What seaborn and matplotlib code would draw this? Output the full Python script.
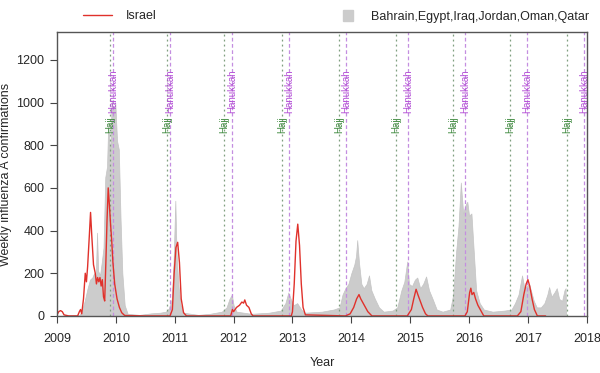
import pandas as pd
import matplotlib
matplotlib.use("Agg")
import matplotlib.pyplot as plt
import seaborn as sns
from matplotlib.lines import Line2D
from matplotlib.patches import Patch

# regional weekly counts (Bahrain, Egypt, Iraq, Jordan, Oman, Qatar)
region_t = [2009.00, 2009.20, 2009.38, 2009.42, 2009.47, 2009.52, 2009.56, 2009.60, 2009.63, 2009.66,
            2009.68, 2009.70, 2009.73, 2009.76, 2009.79, 2009.82, 2009.85, 2009.87, 2009.90, 2009.93,
            2009.96, 2009.99, 2010.02, 2010.05, 2010.08, 2010.11, 2010.15, 2010.20, 2010.40, 2010.60,
            2010.75, 2010.85, 2010.90, 2010.95, 2010.98, 2011.01, 2011.03, 2011.06, 2011.10, 2011.15,
            2011.40, 2011.60, 2011.80, 2011.88, 2011.93, 2011.97, 2012.00, 2012.05, 2012.30, 2012.60,
            2012.80, 2012.88, 2012.93, 2012.97, 2013.02, 2013.08, 2013.15, 2013.20, 2013.50, 2013.70,
            2013.80, 2013.85, 2013.90, 2013.95, 2014.00, 2014.05, 2014.08, 2014.10, 2014.13, 2014.17,
            2014.21, 2014.26, 2014.30, 2014.34, 2014.40, 2014.47, 2014.55, 2014.70, 2014.78, 2014.85,
            2014.90, 2014.95, 2014.98, 2015.03, 2015.08, 2015.12, 2015.17, 2015.22, 2015.27, 2015.32,
            2015.38, 2015.45, 2015.55, 2015.68, 2015.73, 2015.78, 2015.82, 2015.86, 2015.90, 2015.94,
            2015.97, 2016.00, 2016.04, 2016.08, 2016.12, 2016.18, 2016.25, 2016.40, 2016.60, 2016.72,
            2016.78, 2016.84, 2016.90, 2016.94, 2016.98, 2017.02, 2017.06, 2017.10, 2017.15, 2017.22,
            2017.28, 2017.33, 2017.36, 2017.40, 2017.45, 2017.49, 2017.53, 2017.58, 2017.62, 2017.64,
            2017.65]
region_v = [0, 2, 5, 20, 70, 130, 170, 180, 200, 190,
            390, 210, 190, 250, 320, 650, 700, 900, 750, 1010,
            950, 1000, 820, 780, 450, 200, 50, 10, 5, 12,
            15, 20, 35, 80, 250, 540, 300, 150, 50, 15,
            5, 10, 20, 40, 80, 100, 50, 20, 10, 15,
            25, 60, 110, 80, 50, 60, 30, 15, 20, 30,
            40, 100, 130, 150, 200, 240, 280, 355, 250, 150,
            130, 150, 190, 120, 80, 40, 20, 25, 40, 120,
            160, 255, 150, 140, 170, 180, 130, 150, 185, 120,
            80, 30, 20, 30, 100, 300, 420, 625, 480, 520,
            535, 470, 480, 300, 120, 60, 30, 20, 25, 30,
            60, 100, 190, 130, 140, 150, 110, 70, 40, 40,
            60, 100, 135, 90, 110, 130, 80, 70, 120, 130,
            0]

# Israel weekly counts
israel_t = [2009.00, 2009.03, 2009.06, 2009.09, 2009.12, 2009.20, 2009.35, 2009.38, 2009.40, 2009.42,
            2009.45, 2009.48, 2009.50, 2009.52, 2009.55, 2009.57, 2009.59, 2009.62, 2009.65, 2009.67,
            2009.69, 2009.71, 2009.73, 2009.75, 2009.77, 2009.79, 2009.81, 2009.83, 2009.85, 2009.87,
            2009.89, 2009.91, 2009.93, 2009.95, 2009.98, 2010.02, 2010.06, 2010.10, 2010.15, 2010.50,
            2010.92, 2010.96, 2010.99, 2011.02, 2011.05, 2011.08, 2011.11, 2011.15, 2011.20, 2011.95,
            2011.98, 2012.00, 2012.05, 2012.10, 2012.14, 2012.17, 2012.19, 2012.22, 2012.26, 2012.30,
            2012.33, 2012.98, 2013.00, 2013.03, 2013.06, 2013.09, 2013.12, 2013.15, 2013.18, 2013.22,
            2013.90, 2013.98, 2014.04, 2014.09, 2014.13, 2014.16, 2014.20, 2014.24, 2014.28, 2014.35,
            2014.95, 2015.02, 2015.06, 2015.10, 2015.13, 2015.17, 2015.21, 2015.26, 2015.30, 2015.93,
            2015.97, 2016.01, 2016.03, 2016.05, 2016.08, 2016.11, 2016.15, 2016.19, 2016.25, 2016.82,
            2016.88, 2016.93, 2016.97, 2017.00, 2017.03, 2017.07, 2017.11, 2017.16, 2017.30]
israel_v = [5, 20, 25, 20, 5, 0, 0, 20, 30, 10,
            80, 200, 160, 230, 380, 485, 380, 240, 200, 150,
            180, 160, 180, 140, 170, 90, 70, 250, 450, 600,
            520, 430, 350, 250, 150, 80, 40, 15, 2, 0,
            0, 30, 200, 320, 345, 250, 80, 15, 0, 0,
            30, 20, 40, 50, 65, 60, 75, 50, 40, 10,
            0, 0, 20, 150, 350, 430, 330, 150, 40, 5,
            0, 10, 40, 80, 100, 80, 60, 40, 20, 0,
            0, 30, 80, 125, 100, 70, 40, 10, 0, 0,
            20, 110, 130, 100, 110, 80, 50, 30, 0, 0,
            20, 100, 150, 170, 140, 80, 30, 0, 0]

# event dates as decimal years
hajj = [2009.90, 2010.87, 2011.84, 2012.82, 2013.79, 2014.76, 2015.73, 2016.70, 2017.67]
hanukkah = [2009.95, 2010.92, 2011.97, 2012.94, 2013.91, 2014.96, 2015.93, 2016.98, 2017.95]
years = list(range(2009, 2019))
y_ticks = [0, 200, 400, 600, 800, 1000, 1200]

sns.set_style("white")
plt.rcParams['font.family'] = ['Liberation Sans', 'DejaVu Sans']

fig = plt.figure(figsize=(6, 3.73), dpi=100)
ax = fig.add_axes([0.095, 0.153, 0.883, 0.761])

region = pd.DataFrame({"t": region_t, "v": region_v})
israel = pd.DataFrame({"t": israel_t, "v": israel_v})

ax.fill_between(region["t"], 0, region["v"], color="#cccccc", edgecolor="#c4c4c4", linewidth=0.5, zorder=1)
sns.lineplot(data=israel, x="t", y="v", color="#e0312b", linewidth=1.0, ax=ax, zorder=3)

for d in hajj:
    ax.axvline(d, color="#7f9f7f", linestyle=(0, (1.5, 2.5)), linewidth=0.9, zorder=2)
    ax.text(d, 935, "Hajj", rotation=90, ha="center", va="top", fontsize=7, color="#3f8a3f", zorder=4)
for d in hanukkah:
    ax.axvline(d, color="#c48ee0", linestyle=(0, (3, 2)), linewidth=0.9, zorder=2)
    ax.text(d, 1155, "Hanukkah", rotation=90, ha="center", va="top", fontsize=7, color="#b44fd6", zorder=4)

ax.set_xlim(2009, 2018)
ax.set_ylim(0, 1330)
ax.set_xticks(years)
ax.set_xticklabels([str(y) for y in years], fontsize=9)
ax.set_yticks(y_ticks)
ax.set_yticklabels([str(v) for v in y_ticks], fontsize=9)
ax.tick_params(axis="both", direction="out", length=5, width=0.8, color="#444444", pad=4,
               bottom=True, left=True)
ax.tick_params(axis="x", pad=7)
for s in ax.spines.values():
    s.set_color("#555555")
    s.set_linewidth(1.0)
    s.set_zorder(5)
ax.set_xlabel("Year", fontsize=9, labelpad=9)
ax.set_ylabel("Weekly influenza A confirmations", fontsize=9, labelpad=3)

# legends above the plotting region
leg1 = ax.legend(handles=[Line2D([0], [0], color="#e0312b", lw=1.0)], labels=["Israel"],
                 loc="center left", bbox_to_anchor=(0.04, 1.055), frameon=False, fontsize=9,
                 handlelength=2.3, handletextpad=1.1, borderaxespad=0)
ax.add_artist(leg1)
ax.legend(handles=[Patch(facecolor="#cccccc", edgecolor="#cccccc")],
          labels=["Bahrain,Egypt,Iraq,Jordan,Oman,Qatar"],
          loc="center right", bbox_to_anchor=(1.013, 1.055), frameon=False, fontsize=9,
          handlelength=0.8, handleheight=0.9, handletextpad=1.4, borderaxespad=0)

fig.savefig("out.png", dpi=100)
